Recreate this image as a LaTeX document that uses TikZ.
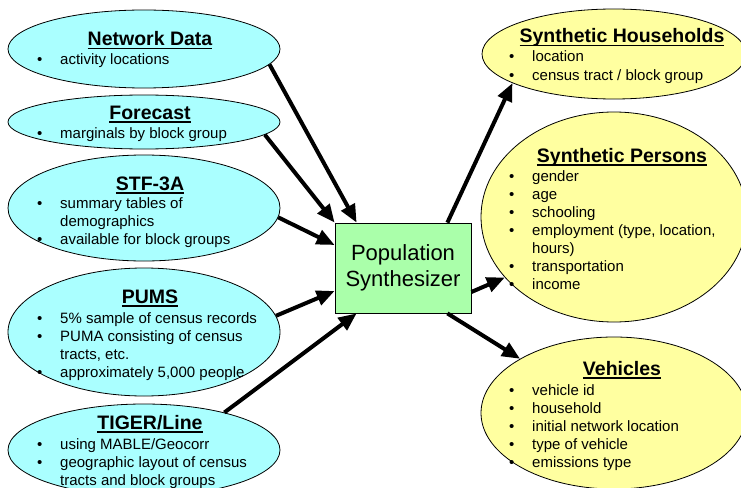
\documentclass[tikz,border=0pt]{standalone}
\usepackage{fontspec}
\setmainfont{Liberation Sans}
\usetikzlibrary{shapes.geometric,arrows.meta}

\definecolor{srcfill}{RGB}{170,255,255}
\definecolor{outfill}{RGB}{255,255,160}
\definecolor{procfill}{RGB}{170,255,170}

% bold heading with a heavy underline
\newcommand\hdline[1]{\sbox0{#1}\usebox0\llap{\rule[-3.5pt]{\wd0}{1.8pt}}}
% bullet item and continuation line
\newcommand\itm{\makebox[23pt][l]{\textbullet}}
\newcommand\cnt{\hspace*{23pt}}
\newcommand\blist[1]{\begin{tabular}[t]{@{}l@{}}#1\end{tabular}}

\tikzset{
  srcell/.style={ellipse, draw=black, line width=0.8pt, fill=srcfill, inner sep=0pt},
  outell/.style={ellipse, draw=black, line width=0.8pt, fill=outfill, inner sep=0pt},
  procbox/.style={rectangle, draw=black, line width=0.8pt, fill=procfill, inner sep=0pt,
    minimum width=136pt, minimum height=90pt, align=center,
    font=\fontsize{22}{26}\selectfont},
  ttl/.style={anchor=base, inner sep=0pt, font=\fontsize{19.5}{23}\selectfont\bfseries},
  lst/.style={anchor=base west, inner sep=0pt, font=\fontsize{15}{18}\selectfont},
  arr/.style={line width=4pt, -{Triangle[length=18pt,width=15pt]}},
}

\begin{document}
\begin{tikzpicture}[x=1pt,y=-1pt]
\useasboundingbox (0,0) rectangle (741,487);

% input data sources
\node[srcell, minimum width=272pt, minimum height=78pt]  (nd)    at (144,49)  {};
\node[srcell, minimum width=272pt, minimum height=54pt]  (fc)    at (144,122) {};
\node[srcell, minimum width=272pt, minimum height=106pt] (stf)   at (144,208) {};
\node[srcell, minimum width=272pt, minimum height=128pt] (pums)  at (144,332) {};
\node[srcell, minimum width=272pt, minimum height=92pt]  (tiger) at (144,450) {};

\node[ttl] (ndT) at (150,46) {\hdline{Network Data}};
\node[lst] (ndL) at (37,65) {\blist{\itm activity locations}};

\node[ttl] (fcT) at (150,119) {\hdline{Forecast}};
\node[lst] (fcL) at (37,138) {\blist{\itm marginals by block group}};

\node[ttl] (stfT) at (150,190) {\hdline{STF-3A}};
\node[lst] (stfL) at (37,208) {\blist{\itm summary tables of\\ \cnt demographics\\ \itm available for block groups}};

\node[ttl] (pumsT) at (150,303) {\hdline{PUMS}};
\node[lst] (pumsL) at (37,323) {\blist{\itm 5\% sample of census records\\ \itm PUMA consisting of census\\ \cnt tracts, etc.\\ \itm approximately 5,000 people}};

\node[ttl] (tigerT) at (150,429) {\hdline{TIGER/Line}};
\node[lst] (tigerL) at (37,449) {\blist{\itm using MABLE/Geocorr\\ \itm geographic layout of census\\ \cnt tracts and block groups}};

% synthesized outputs
\node[outell, minimum width=264pt, minimum height=90pt]  (hh) at (614,54)  {};
\node[outell, minimum width=266pt, minimum height=210pt] (ps) at (614,217) {};
\node[outell, minimum width=266pt, minimum height=152pt] (vh) at (614,413) {};

\node[ttl] (hhT) at (622,43) {\hdline{Synthetic Households}};
\node[lst] (hhL) at (509,62) {\blist{\itm location\\ \itm census tract / block group}};

\node[ttl] (psT) at (622,162) {\hdline{Synthetic Persons}};
\node[lst] (psL) at (509,181) {\blist{\itm gender\\ \itm age\\ \itm schooling\\ \itm employment (type, location,\\ \cnt hours)\\ \itm transportation\\ \itm income}};

\node[ttl] (vhT) at (622,375) {\hdline{Vehicles}};
\node[lst] (vhL) at (509,395) {\blist{\itm vehicle id\\ \itm household\\ \itm initial network location\\ \itm type of vehicle\\ \itm emissions type}};

% the synthesizer
\node[procbox] (box) at (403,268) {Population\\Synthesizer};

% flows into the synthesizer
\draw[arr] (nd.-7)    -- ([xshift=22pt]box.north west);
\draw[arr] (fc.-6)    -- (box.north west);
\draw[arr] (stf.-4)   -- ([yshift=23pt]box.west);
\draw[arr] (pums.7)   -- ([yshift=-23pt]box.west);
\draw[arr] (tiger.25) -- ([xshift=22pt]box.south west);

% flows out of the synthesizer
\draw[arr] ([xshift=-24pt]box.north east) -- (hh.196);
\draw[arr] ([yshift=-24pt]box.east)       -- (ps.209);
\draw[arr] ([xshift=-24pt]box.south east) -- (vh.150);
\end{tikzpicture}
\end{document}
